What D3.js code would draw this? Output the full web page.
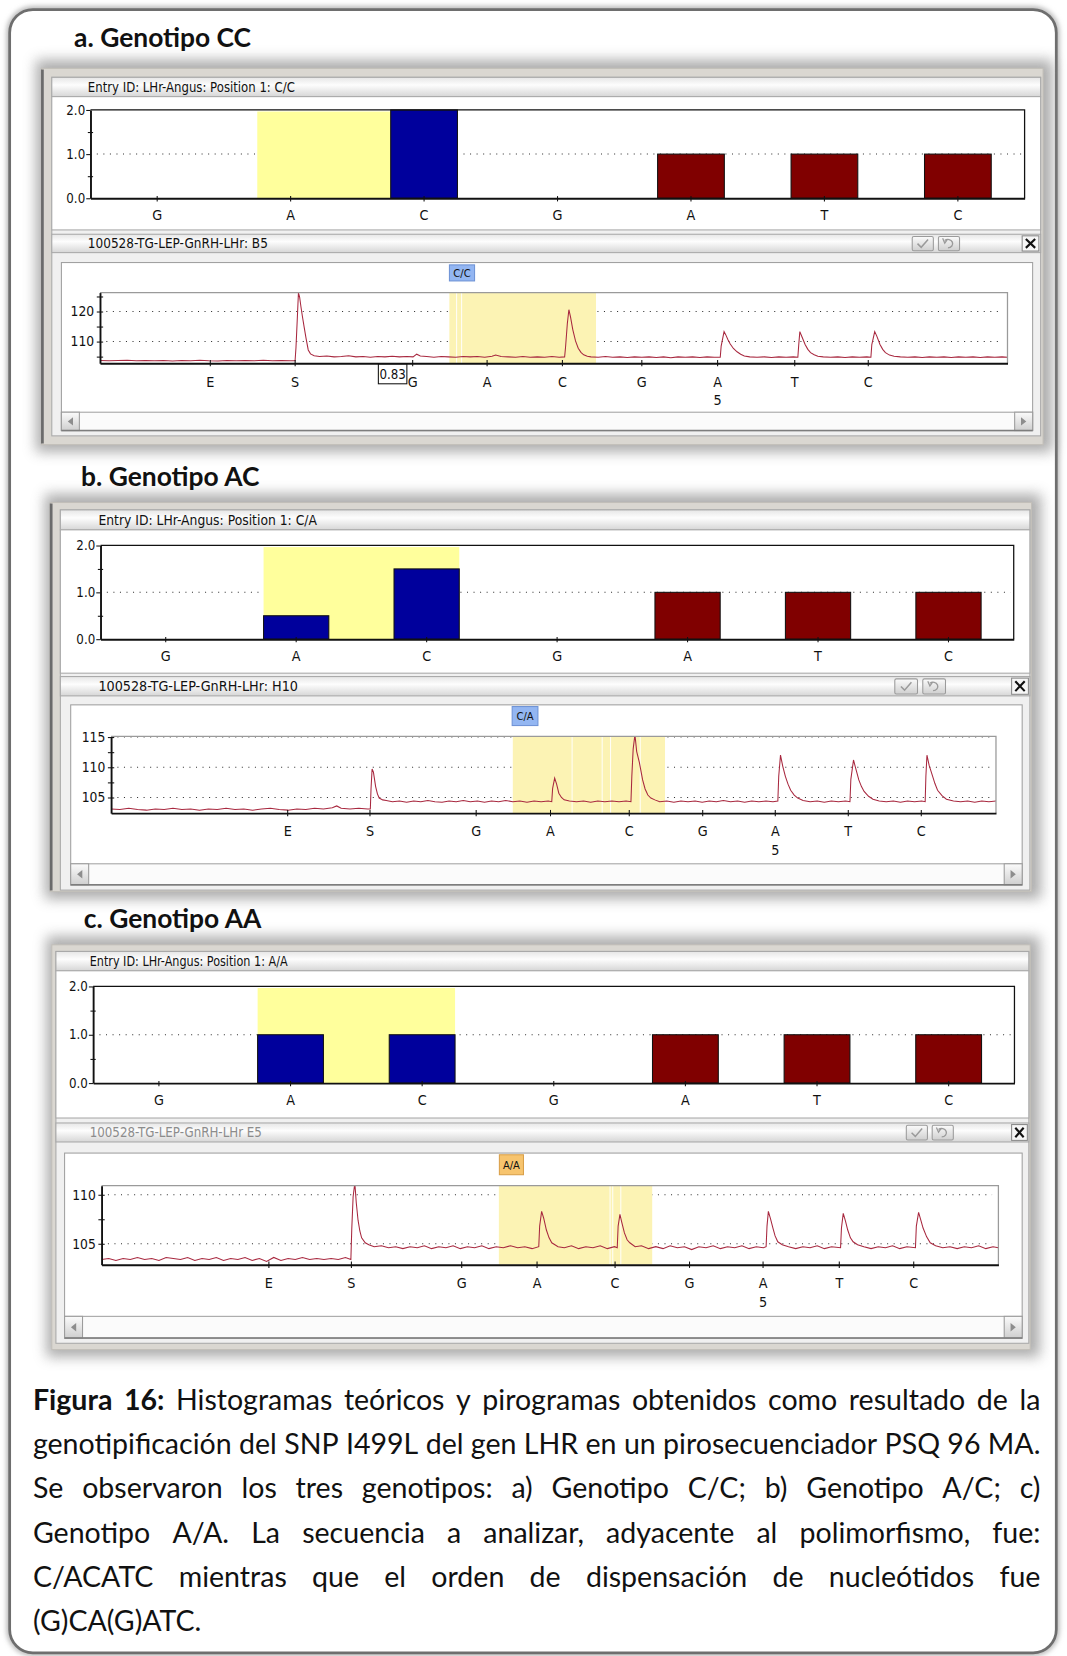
<!DOCTYPE html>
<html lang="es">
<head>
<meta charset="UTF-8">
<title>Figura 16 - Histogramas teóricos y pirogramas</title>
<script src="https://d3js.org/d3.v7.min.js"></script>
<style>
  body { margin: 0; background: #fff; }
  svg { display: block; }
  .ui { font-family: "Liberation Sans Narrow", "DejaVu Sans Condensed", "Liberation Sans", Arial, sans-serif; }
</style>
</head>
<body>
<div id="chart"></div>
<script>
// ---- data ----
const histCats = ["G", "A", "C", "G", "A", "T", "C"];
const histRole = ["blank", "snp", "snp", "blank", "ref", "ref", "ref"];
const histValsA = [0, 0, 2.0, 0, 1.0, 1.0, 1.0];
const histValsB = [0, 0.5, 1.5, 0, 1.0, 1.0, 1.0];
const histValsC = [0, 1.0, 1.0, 0, 1.0, 1.0, 1.0];
const histMajor = [0, 1, 2];
const histMinor = [0.5, 1.5];

const dispLabels = ["E", "S", "G", "A", "C", "G", "A", "T", "C"];
const dispSubLabels = ["", "", "", "", "", "", "5", "", ""];
const dispTimesA = [12.1, 21.45, 34.4, 42.6, 50.9, 59.65, 68.0, 76.5, 84.6];
const dispTimesB = [19.9, 29.2, 41.2, 49.6, 58.5, 66.8, 75.0, 83.25, 91.5];
const dispTimesC = [18.6, 27.8, 40.1, 48.5, 57.2, 65.5, 73.7, 82.2, 90.5];

const snpWinA = [38.5, 54.66], snpLinesA = [39.3, 39.85];
const snpWinB = [45.4, 62.6], snpLinesB = [52.1, 55.5, 56.45, 59.8];
const snpWinC = [44.3, 61.4], snpLinesC = [56.7, 57.0, 57.9];

const pyroTicksA = [105, 110, 115, 120, 125], pyroLabelsA = [110, 120];
const pyroTicksB = [105, 107.5, 110, 112.5, 115], pyroLabelsB = [105, 110, 115];
const pyroTicksC = [105, 107.5, 110], pyroLabelsC = [105, 110];

const pyroTraceA = [
[0,103.7],[1,103.6],[2,103.7],[3,103.8],[4,103.6],[5,103.7],[6,103.6],[7,103.7],[8,103.5],[9,103.7],[10,103.6],[11,103.8],[12,103.6],[13,103.5],[14,103.7],[15,103.6],[16,103.7],[17,103.6],[18,103.8],[19,103.6],[20,103.7],[21,103.6],[21.5,103.6],
[21.6,108],[21.75,118],[21.87,126.2],[22.0,124.8],[22.15,121.5],[22.3,118.5],[22.5,114.8],[22.7,111.2],[22.95,107.2],[23.2,105.9],[23.6,105.3],[24.2,105.0],[25,105.2],[25.8,104.9],[26.6,105.0],[27.4,105.3],[28.2,104.9],[29,105.0],[29.8,104.8],[30.6,105.0],[31.4,104.9],[32.2,105.1],[33,104.9],[33.8,105.0],[34.5,104.9],[34.9,105.8],[35.3,105.2],[36,105.0],[36.8,104.8],[37.6,105.0],[38.4,104.9],[39.2,104.8],[40,105.0],[40.8,104.9],[41.6,105.0],[42.4,104.8],[43.2,105.1],[43.6,105.5],[44.2,105.0],[45,104.9],[45.8,104.8],[46.6,105.0],[47.4,104.8],[48.2,104.9],[49,104.8],[49.8,105.0],[50.6,104.8],[51.2,104.9],
[51.3,108],[51.5,116],[51.67,120.6],[51.85,118.2],[52.1,114.0],[52.4,110.2],[52.7,107.8],[53.0,106.4],[53.3,105.6],[53.7,105.1],[54.1,104.9],[54.9,104.8],[55.7,105.0],[56.5,104.8],[57.3,104.9],[58.1,104.7],[58.9,104.9],[59.7,104.8],[60.5,104.9],[61.3,104.7],[62.1,104.9],[62.9,104.6],[63.7,104.9],[64.5,104.8],[65.3,104.9],[66.1,104.7],[66.9,104.9],[67.7,104.8],[68.35,104.8],
[68.45,108.5],[68.77,113.3],[68.95,112.3],[69.2,110.6],[69.45,109.2],[69.8,107.7],[70.2,106.6],[70.6,105.8],[71.0,105.2],[71.6,104.9],[72.4,104.8],[73.2,104.9],[74,104.7],[74.8,104.9],[75.6,104.8],[76.4,104.9],[76.9,104.8],
[77.0,109],[77.12,113.3],[77.35,111.6],[77.7,109.0],[78.0,107.4],[78.3,106.3],[78.7,105.6],[79.1,105.1],[79.7,104.9],[80.5,104.8],[81.3,104.9],[82.1,104.7],[82.9,104.9],[83.7,104.8],[84.5,104.9],[84.95,104.8],
[85.05,109],[85.37,113.3],[85.6,111.8],[85.95,109.0],[86.25,107.4],[86.55,106.3],[87.0,105.5],[87.5,105.1],[88.2,104.9],[89,104.8],[89.8,104.9],[90.6,104.7],[91.4,104.9],[92.2,104.8],[93,104.9],[93.8,104.7],[94.6,104.9],[95.4,104.8],[96.2,104.9],[97,104.7],[97.8,104.9],[98.6,104.8],[99.4,104.9],[100,104.8]
];

const pyroTraceB = [
[0,103.1],[1,103.0],[2,103.2],[3,103.0],[4,102.9],[5,103.1],[6,103.0],[7,103.2],[8,103.0],[9,103.1],[10,102.9],[11,103.1],[12,103.0],[13,103.2],[14,103.0],[15,103.1],[16,102.9],[17,103.1],[18,103.2],[19,103.0],[20,102.9],[21,103.1],[22,103.0],[23,103.2],[24,103.1],[25,103.3],[25.5,103.6],[26,103.2],[27,103.1],[28,103.2],[29,103.1],[29.3,103.1],
[29.38,106.5],[29.5,109.7],[29.65,109.2],[29.9,106.8],[30.1,105.6],[30.3,104.9],[30.7,104.6],[31.1,104.5],[31.8,104.3],[32.6,104.4],[33.4,104.2],[34.2,104.4],[35,104.3],[35.8,104.5],[36.6,104.3],[37.4,104.2],[38.2,104.4],[39,104.3],[39.8,104.5],[40.6,104.3],[41.4,104.4],[42.2,104.2],[43,104.4],[43.8,104.3],[44.6,104.5],[45.4,104.3],[46.2,104.4],[47,104.2],[47.8,104.4],[48.6,104.3],[49.4,104.4],[49.8,104.3],
[49.9,106.5],[50.13,108.2],[50.35,107.2],[50.6,105.7],[50.9,105.0],[51.2,104.6],[51.8,104.4],[52.6,104.3],[53.4,104.4],[54.2,104.2],[55,104.4],[55.8,104.3],[56.6,104.4],[57.4,104.3],[58.2,104.4],[58.75,104.3],
[58.85,108.5],[59.0,113],[59.2,115.4],[59.4,112.6],[59.7,110.8],[60.07,107.9],[60.35,106.4],[60.66,105.4],[61.0,104.9],[61.45,104.6],[62,104.3],[62.8,104.4],[63.6,104.2],[64.4,104.4],[65.2,104.3],[66,104.4],[66.8,104.2],[67.6,104.4],[68.4,104.3],[69.2,104.5],[70,104.3],[70.8,104.4],[71.6,104.2],[72.4,104.4],[73.2,104.3],[74,104.4],[74.8,104.3],[75.35,104.4],
[75.45,108.5],[75.65,112.0],[75.9,110.2],[76.2,108.5],[76.5,107.2],[76.8,106.2],[77.2,105.4],[77.6,104.9],[78.2,104.5],[79,104.3],[79.8,104.4],[80.6,104.2],[81.4,104.4],[82.2,104.3],[83,104.4],[83.5,104.3],
[83.6,108],[83.9,111.2],[84.15,109.8],[84.5,107.9],[84.8,106.8],[85.1,106.0],[85.6,105.2],[86.1,104.7],[86.8,104.4],[87.6,104.3],[88.4,104.4],[89.2,104.2],[90,104.4],[90.8,104.3],[91.6,104.4],[92.0,104.3],
[92.08,108.5],[92.2,112.0],[92.45,110.3],[92.8,108.7],[93.1,107.3],[93.4,106.2],[93.9,105.3],[94.4,104.7],[95.2,104.4],[96,104.3],[96.8,104.4],[97.6,104.2],[98.4,104.4],[99.2,104.3],[100,104.4]
];

const pyroTraceC = [
[0,103.4],[0.8,103.5],[1.6,103.3],[2.4,103.5],[3.2,103.4],[4,103.6],[4.8,103.4],[5.6,103.5],[6.4,103.3],[7.2,103.6],[8,103.5],[8.8,103.4],[9.6,103.6],[10.4,103.3],[11.2,103.5],[12,103.4],[12.8,103.6],[13.6,103.3],[14.4,103.5],[15.2,103.4],[16,103.6],[16.8,103.3],[17.6,103.5],[18.4,103.2],[19.2,103.6],[20,103.3],[20.8,103.5],[21.6,103.4],[22.4,103.6],[23.2,103.4],[24,103.5],[24.8,103.4],[25.6,103.5],[26.4,103.4],[27.2,103.6],[27.8,103.4],
[27.9,106.5],[28.05,109.8],[28.24,111.2],[28.4,109.2],[28.6,107.4],[28.8,106.3],[29.0,105.6],[29.4,105.1],[29.8,104.9],[30.4,104.7],[31.2,104.8],[32,104.6],[32.8,104.7],[33.6,104.5],[34.4,104.7],[35.2,104.6],[36,104.8],[36.8,104.5],[37.6,104.7],[38.4,104.6],[39.2,104.8],[40,104.5],[40.8,104.7],[41.6,104.6],[42.4,104.8],[43.2,104.5],[44,104.7],[44.8,104.6],[45.6,104.8],[46.4,104.6],[47.2,104.7],[48,104.5],[48.75,104.7],
[48.85,106.8],[49.07,108.3],[49.3,107.6],[49.6,106.4],[49.9,105.6],[50.2,105.1],[50.9,104.7],[51.6,104.6],[52.4,104.8],[53.2,104.5],[54,104.7],[54.8,104.6],[55.6,104.8],[56.4,104.5],[57.2,104.7],[57.5,104.6],
[57.6,106.8],[57.8,108.0],[58.0,107.2],[58.3,106.1],[58.6,105.4],[58.9,105.1],[59.5,104.7],[60.2,104.8],[61,104.5],[61.8,104.7],[62.6,104.5],[63.4,104.8],[64.2,104.6],[65,104.7],[65.8,104.4],[66.6,104.7],[67.4,104.6],[68.2,104.8],[69,104.5],[69.8,104.7],[70.6,104.6],[71.4,104.8],[72.2,104.5],[73,104.7],[73.8,104.6],[74.1,104.7],
[74.2,106.8],[74.35,108.3],[74.6,107.5],[74.86,106.6],[75.1,105.8],[75.4,105.2],[75.9,104.9],[76.6,104.7],[77.4,104.5],[78.2,104.7],[79,104.6],[79.8,104.8],[80.6,104.5],[81.4,104.7],[82.4,104.6],
[82.5,106.6],[82.7,108.1],[82.95,107.3],[83.2,106.4],[83.5,105.6],[83.8,105.2],[84.3,104.9],[85,104.7],[85.8,104.5],[86.6,104.7],[87.4,104.6],[88.2,104.8],[89,104.5],[89.8,104.7],[90.75,104.6],
[90.85,106.8],[91.1,108.2],[91.35,107.4],[91.6,106.6],[92.0,105.7],[92.4,105.1],[93,104.8],[93.8,104.6],[94.6,104.7],[95.4,104.5],[96.2,104.7],[97,104.6],[97.8,104.8],[98.6,104.5],[99.4,104.7],[100,104.6]
];

const captionLines = [
  "Figura 16: Histogramas teóricos y pirogramas obtenidos como resultado de la",
  "genotipificación del SNP I499L del gen LHR en un pirosecuenciador PSQ 96 MA.",
  "Se observaron los tres genotipos: a) Genotipo C/C; b) Genotipo A/C; c)",
  "Genotipo A/A. La secuencia a analizar, adyacente al polimorfismo, fue:",
  "C/ACATC mientras que el orden de dispensación de nucleótidos fue",
  "(G)CA(G)ATC."
];

// ---- layout (in 1010x1568 drawing units) ----
const panels = [
  { title: "a. Genotipo CC", tx: 70, ty: 44.2,
    win: {x: 39, y: 64.7, r: 987.5, b: 421}, darkLeft: true, xl: 48.9, xr: 985.2,
    hdr1: [73.2, 91.5], hdr1Text: "Entry ID: LHr-Angus: Position 1: C/C", hdr1X: 83, hdr1W: 196,
    histB: 217.7, hist: {x0: 85.5, x1: 970, y0: 104.1, y1: 187.7}, vals: histValsA,
    hdr2: [221.8, 239.2], hdr2Text: "100528-TG-LEP-GnRH-LHr: B5", hdr2W: 170.5, hdr2Color: "#111",
    btn: [863.6, 888.4], btnW: 20, close: 967.7, closeW: 15.8,
    box: {x: 58, r: 977.6, y: 248.6, b: 407.7}, scroll: 390.3,
    pyro: {x0: 94.5, x1: 953.8, y0: 277, y1: 343.9}, pDom: [102.8, 126.3],
    times: dispTimesA, trace: pyroTraceA, ticks: pyroTicksA, labels: pyroLabelsA,
    win2: snpWinA, lines: snpLinesA,
    tag: "C/C", tagFill: "#93b6f2", tagStroke: "#6f93d6", tagBox: [425.4, 449.2, 250.8, 266],
    note: "0.83" },
  { title: "b. Genotipo AC", tx: 76.6, ty: 460,
    win: {x: 47.3, y: 475.8, r: 976.6, b: 844.2}, darkLeft: true, xl: 57, xr: 975,
    hdr1: [482.8, 501.7], hdr1Text: "Entry ID: LHr-Angus: Position 1: C/A", hdr1X: 93, hdr1W: 207,
    histB: 637.4, hist: {x0: 95, x1: 959.7, y0: 516.5, y1: 605.2}, vals: histValsB,
    hdr2: [640.6, 658.9], hdr2Text: "100528-TG-LEP-GnRH-LHr: H10", hdr2W: 189, hdr2Color: "#111",
    btn: [847.1, 873.6], btnW: 21.5, close: 957.7, closeW: 15.9,
    box: {x: 66.8, r: 967.7, y: 667.4, b: 837.8}, scroll: 817.9,
    pyro: {x0: 105, x1: 942.9, y0: 697.3, y1: 769.9}, pDom: [102.41, 115.1],
    times: dispTimesB, trace: pyroTraceB, ticks: pyroTicksB, labels: pyroLabelsB,
    win2: snpWinB, lines: snpLinesB,
    tag: "C/A", tagFill: "#93b6f2", tagStroke: "#6f93d6", tagBox: [484.8, 509.2, 669, 687],
    note: null },
  { title: "c. Genotipo AA", tx: 79.2, ty: 878.8,
    win: {x: 48.9, y: 894.6, r: 975.3, b: 1277.9}, darkLeft: false, xl: 52.8, xr: 974,
    hdr1: [900.9, 919.2], hdr1Text: "Entry ID: LHr-Angus: Position 1: A/A", hdr1X: 84.8, hdr1W: 187.4,
    histB: 1058.6, hist: {x0: 88, x1: 960.4, y0: 934, y1: 1025.5}, vals: histValsC,
    hdr2: [1063.3, 1081.3], hdr2Text: "100528-TG-LEP-GnRH-LHr E5", hdr2W: 163, hdr2Color: "#8c8c8c",
    btn: [858, 882.5], btnW: 20, close: 957.7, closeW: 14.9,
    box: {x: 61, r: 967.7, y: 1091.8, b: 1266.9}, scroll: 1246.4,
    pyro: {x0: 96, x1: 945.2, y0: 1122.7, y1: 1197.5}, pDom: [102.86, 110.92],
    times: dispTimesC, trace: pyroTraceC, ticks: pyroTicksC, labels: pyroLabelsC,
    win2: snpWinC, lines: snpLinesC,
    tag: "A/A", tagFill: "#f7c46e", tagStroke: "#d9a04a", tagBox: [472.7, 495.5, 1093.4, 1112.3],
    note: null }
];

const roleColor = { snp: "#00009c", ref: "#800000" };

const W = 1010, H = 1568;
const svg = d3.select("#chart").append("svg")
  .attr("width", 1067).attr("height", 1656)
  .attr("viewBox", `0 0 ${W} ${H}`);

const defs = svg.append("defs");
defs.append("filter").attr("id", "blur6").attr("x", "-10%").attr("y", "-10%")
  .attr("width", "120%").attr("height", "120%")
  .append("feGaussianBlur").attr("stdDeviation", 6);
defs.append("filter").attr("id", "blur3").attr("x", "-5%").attr("y", "-5%")
  .attr("width", "110%").attr("height", "110%")
  .append("feGaussianBlur").attr("stdDeviation", 2.5);
const hg = defs.append("linearGradient").attr("id", "hdrGrad").attr("x1", 0).attr("y1", 0).attr("x2", 0).attr("y2", 1);
hg.append("stop").attr("offset", "0%").attr("stop-color", "#e6e6e6");
hg.append("stop").attr("offset", "40%").attr("stop-color", "#fdfdfd");
hg.append("stop").attr("offset", "100%").attr("stop-color", "#d6d6d6");
const bg = defs.append("linearGradient").attr("id", "btnGrad").attr("x1", 0).attr("y1", 0).attr("x2", 0).attr("y2", 1);
bg.append("stop").attr("offset", "0%").attr("stop-color", "#fbfbfb");
bg.append("stop").attr("offset", "100%").attr("stop-color", "#cfcfcf");

// outer figure frame
svg.append("rect").attr("x", 9).attr("y", 9).attr("width", 991).attr("height", 1556).attr("rx", 22)
  .attr("fill", "none").attr("stroke", "#b5b5b5").attr("stroke-width", 6).attr("filter", "url(#blur3)");
svg.append("rect").attr("x", 9).attr("y", 9).attr("width", 991).attr("height", 1556).attr("rx", 22)
  .attr("fill", "#fff").attr("stroke", "#6e6e6e").attr("stroke-width", 2.6);

function header(g, x, y, w, h, label, tx, tw, color) {
  g.append("rect").attr("x", x).attr("y", y).attr("width", w).attr("height", h)
    .attr("fill", "url(#hdrGrad)").attr("stroke", "#a9a9a9");
  g.append("text").attr("class", "ui").attr("x", tx).attr("y", y + h / 2 + 4.6)
    .attr("font-size", 12.5).attr("fill", color)
    .attr("textLength", tw).attr("lengthAdjust", "spacingAndGlyphs").text(label);
}

function scrollbar(g, x, r, y, b) {
  g.append("rect").attr("x", x).attr("y", y).attr("width", r - x).attr("height", b - y)
    .attr("fill", "#fbfbfb").attr("stroke", "#a3a3a3");
  [[x, -1], [r - 17, 1]].forEach(([bx, dir]) => {
    g.append("rect").attr("x", bx).attr("y", y).attr("width", 17).attr("height", b - y)
      .attr("fill", "url(#btnGrad)").attr("stroke", "#9c9c9c");
    const cx = bx + 8.5, cy = (y + b) / 2;
    g.append("path").attr("d", `M${cx - 2.5 * dir},${cy - 4}L${cx + 2.5 * dir},${cy}L${cx - 2.5 * dir},${cy + 4}Z`)
      .attr("fill", "#8d8d8d");
  });
  g.append("line").attr("x1", x).attr("x2", r).attr("y1", b).attr("y2", b)
    .attr("stroke", "#7d7d7d").attr("stroke-width", 1.4);
}

function drawHist(g, P) {
  const h = P.hist;
  const x = d3.scaleBand().domain(d3.range(histCats.length)).range([h.x0, h.x1]);
  const y = d3.scaleLinear().domain([0, 2]).range([h.y1, h.y0]);
  const bw = x.bandwidth() / 2;

  g.append("line").attr("x1", h.x0 + 6).attr("x2", h.x1 - 3).attr("y1", y(1)).attr("y2", y(1))
    .attr("stroke", "#333").attr("stroke-dasharray", "1 5.2");

  // highlighted SNP region behind the variable bars
  const yl = x(1) + bw / 2, yr = x(2) + bw * 1.5;
  g.append("rect").attr("x", yl).attr("y", y(2) + 1.5).attr("width", yr - yl).attr("height", y(0) - y(2) - 1.5)
    .attr("fill", "#ffff9c");

  g.selectAll("rect.bar").data(P.vals.map((v, i) => ({v, i})).filter(d => d.v > 0))
    .join("rect").attr("class", "bar")
    .attr("x", d => x(d.i) + bw / 2).attr("width", bw)
    .attr("y", d => y(d.v)).attr("height", d => y(0) - y(d.v))
    .attr("fill", d => roleColor[histRole[d.i]]).attr("stroke", "#111").attr("stroke-width", 1);

  g.append("path").attr("d", `M${h.x0},${h.y0}H${h.x1}V${h.y1}`).attr("fill", "none")
    .attr("stroke", "#111").attr("stroke-width", 1.2);

  const xa = g.append("g").attr("transform", `translate(0,${h.y1})`)
    .call(d3.axisBottom(x).tickFormat(i => histCats[i]).tickSizeInner(3).tickSizeOuter(0).tickPadding(8.5));
  xa.selectAll(".tick line").attr("y1", -2).attr("stroke", "#111");
  xa.select(".domain").attr("stroke", "#111").attr("stroke-width", 1.8);
  xa.selectAll("text").attr("class", "ui").attr("font-size", 13.5).attr("fill", "#111");

  const ya = g.append("g").attr("transform", `translate(${h.x0},0)`)
    .call(d3.axisLeft(y).tickValues(histMajor).tickFormat(d3.format(".1f")).tickSizeInner(4).tickSizeOuter(0).tickPadding(1));
  ya.select(".domain").attr("stroke", "#111").attr("stroke-width", 1.8);
  ya.selectAll(".tick line").attr("stroke", "#111");
  ya.selectAll("text").attr("class", "ui").attr("font-size", 12.5).attr("fill", "#111");
  const ym = g.append("g").attr("transform", `translate(${h.x0},0)`)
    .call(d3.axisLeft(y).tickValues(histMinor).tickFormat("").tickSizeInner(2.5).tickSizeOuter(0));
  ym.select(".domain").remove();
  ym.selectAll(".tick line").attr("x1", 2.5).attr("stroke", "#111");
}

function drawPyro(g, P, idx) {
  const p = P.pyro;
  const x = d3.scaleLinear().domain([0, 100]).range([p.x0, p.x1]);
  const y = d3.scaleLinear().domain(P.pDom).range([p.y1, p.y0]);

  P.labels.forEach(v => {
    g.append("line").attr("x1", p.x0 + 6).attr("x2", p.x1 - 6).attr("y1", y(v)).attr("y2", y(v))
      .attr("stroke", "#333").attr("stroke-dasharray", "1 5.2");
  });

  g.append("rect").attr("x", x(P.win2[0])).attr("y", p.y0).attr("width", x(P.win2[1]) - x(P.win2[0]))
    .attr("height", p.y1 - p.y0).attr("fill", "#fcf3b4");
  P.lines.forEach(t => g.append("line").attr("x1", x(t)).attr("x2", x(t)).attr("y1", p.y0).attr("y2", p.y1)
    .attr("stroke", "#fff").attr("stroke-width", 0.9));

  defs.append("clipPath").attr("id", "pclip" + idx).append("rect")
    .attr("x", p.x0).attr("y", p.y0).attr("width", p.x1 - p.x0).attr("height", p.y1 - p.y0);
  g.append("path").datum(P.trace)
    .attr("d", d3.line().x(d => x(d[0])).y(d => y(d[1])))
    .attr("fill", "none").attr("stroke", "#a8283f").attr("stroke-width", 1)
    .attr("clip-path", `url(#pclip${idx})`);

  g.append("path").attr("d", `M${p.x0},${p.y0}H${p.x1}V${p.y1}`).attr("fill", "none")
    .attr("stroke", "#9a9a9a").attr("stroke-width", 1.2);

  const xa = g.append("g").attr("transform", `translate(0,${p.y1})`)
    .call(d3.axisBottom(x).tickValues(P.times).tickFormat((d, i) => dispLabels[i])
      .tickSizeInner(3).tickSizeOuter(0).tickPadding(9.5));
  xa.selectAll(".tick line").attr("y1", -3).attr("stroke", "#111");
  xa.select(".domain").attr("stroke", "#111").attr("stroke-width", 1.8);
  xa.selectAll("text").attr("class", "ui").attr("font-size", 13.5).attr("fill", "#111");
  xa.selectAll(".tick").filter((d, i) => dispSubLabels[i] !== "")
    .append("text").attr("class", "ui").attr("y", 40).attr("text-anchor", "middle")
    .attr("font-size", 13.5).attr("fill", "#111")
    .text(d => dispSubLabels[P.times.indexOf(d)]);

  const ya = g.append("g").attr("transform", `translate(${p.x0},0)`)
    .call(d3.axisLeft(y).tickValues(P.ticks).tickFormat(d => P.labels.includes(d) ? d : "")
      .tickSizeInner(3).tickSizeOuter(0).tickPadding(2.5));
  ya.select(".domain").attr("stroke", "#111").attr("stroke-width", 1.8);
  ya.selectAll(".tick line").attr("x1", 3).attr("stroke", "#111");
  ya.selectAll("text").attr("class", "ui").attr("font-size", 13).attr("fill", "#111");

  // genotype tag above the SNP window
  const tb = P.tagBox;
  g.append("rect").attr("x", tb[0]).attr("y", tb[2]).attr("width", tb[1] - tb[0]).attr("height", tb[3] - tb[2])
    .attr("fill", P.tagFill).attr("stroke", P.tagStroke);
  g.append("text").attr("class", "ui").attr("x", (tb[0] + tb[1]) / 2).attr("y", (tb[2] + tb[3]) / 2 + 3.8)
    .attr("text-anchor", "middle").attr("font-size", 10.5).attr("fill", "#111").text(P.tag);

  if (P.note) {
    const nx = x(P.times[2]) - 5;
    g.append("rect").attr("x", nx - 27).attr("y", p.y1 + 1).attr("width", 27).attr("height", 18.5)
      .attr("fill", "#fff").attr("stroke", "#111");
    g.append("text").attr("class", "ui").attr("x", nx - 13.5).attr("y", p.y1 + 14.5)
      .attr("text-anchor", "middle").attr("font-size", 12.5).attr("fill", "#111").text(P.note);
  }
}

panels.forEach((P, idx) => {
  const g = svg.append("g");
  const w = P.win;

  g.append("rect").attr("x", w.x - 5).attr("y", w.y - 8).attr("width", w.r - w.x + 14).attr("height", w.b - w.y + 15)
    .attr("fill", "#8a8a8a").attr("opacity", 0.7).attr("filter", "url(#blur6)");

  g.append("text").attr("x", P.tx).attr("y", P.ty)
    .attr("font-family", "Lato, 'Open Sans', sans-serif").attr("font-weight", 700)
    .attr("font-size", 25).attr("fill", "#111").text(P.title);

  g.append("rect").attr("x", w.x).attr("y", w.y).attr("width", w.r - w.x).attr("height", w.b - w.y)
    .attr("fill", "#dad7d1").attr("stroke", "#c2bfb9");
  if (P.darkLeft) {
    g.append("line").attr("x1", w.x + 1).attr("x2", w.x + 1).attr("y1", w.y + 1).attr("y2", w.b - 1)
      .attr("stroke", "#6b6b6b").attr("stroke-width", 2.6);
  }

  g.append("rect").attr("x", P.xl).attr("y", P.hdr1[0]).attr("width", P.xr - P.xl)
    .attr("height", P.box.b + 5 - P.hdr1[0]).attr("fill", "#f0f0f0").attr("stroke", "#a9a9a9");

  header(g, P.xl, P.hdr1[0], P.xr - P.xl, P.hdr1[1] - P.hdr1[0], P.hdr1Text, P.hdr1X, P.hdr1W, "#111");
  g.append("rect").attr("x", P.xl).attr("y", P.hdr1[1]).attr("width", P.xr - P.xl).attr("height", P.histB - P.hdr1[1])
    .attr("fill", "#fff").attr("stroke", "#a9a9a9");
  drawHist(g, P);

  header(g, P.xl, P.hdr2[0], P.xr - P.xl, P.hdr2[1] - P.hdr2[0], P.hdr2Text, P.hdr1X, P.hdr2W, P.hdr2Color);
  const by = P.hdr2[0] + 2.2, bh = P.hdr2[1] - P.hdr2[0] - 4;
  P.btn.forEach((bx, k) => {
    g.append("rect").attr("x", bx).attr("y", by).attr("width", P.btnW).attr("height", bh).attr("rx", 1.5)
      .attr("fill", "url(#btnGrad)").attr("stroke", "#9b9b9b");
    const cx = bx + P.btnW / 2, cy = by + bh / 2;
    if (k === 0) {
      g.append("path").attr("d", `M${cx - 5},${cy}L${cx - 1.5},${cy + 3.5}L${cx + 5},${cy - 4}`)
        .attr("fill", "none").attr("stroke", "#9a9a9a").attr("stroke-width", 1.4);
    } else {
      g.append("path").attr("d", `M${cx - 4},${cy - 3}A4.5,4 0 1 1 ${cx - 1},${cy + 4}`)
        .attr("fill", "none").attr("stroke", "#9a9a9a").attr("stroke-width", 1.3);
      g.append("path").attr("d", `M${cx - 6},${cy - 5}L${cx - 4},${cy - 0.5}L${cx - 1.5},${cy - 4}`)
        .attr("fill", "none").attr("stroke", "#9a9a9a").attr("stroke-width", 1.2);
    }
  });
  const cxl = P.close, cyt = P.hdr2[0] + 1.5, cs = P.closeW, ch = P.hdr2[1] - P.hdr2[0] - 3;
  g.append("rect").attr("x", cxl).attr("y", cyt).attr("width", cs).attr("height", ch)
    .attr("fill", "#f6f6f6").attr("stroke", "#8a8a8a");
  g.append("path").attr("d", `M${cxl + 3.5},${cyt + 3}L${cxl + cs - 3.5},${cyt + ch - 3}M${cxl + cs - 3.5},${cyt + 3}L${cxl + 3.5},${cyt + ch - 3}`)
    .attr("stroke", "#111").attr("stroke-width", 2);

  g.append("rect").attr("x", P.box.x).attr("y", P.box.y).attr("width", P.box.r - P.box.x).attr("height", P.box.b - P.box.y)
    .attr("fill", "#fff").attr("stroke", "#a0a0a0");
  drawPyro(g, P, idx);
  scrollbar(g, P.box.x, P.box.r, P.scroll, P.box.b);
});

// ---- caption, justified ----
const capX0 = 31, capX1 = 985, capY0 = 1334.7, capDY = 42;
const capFamily = "Lato, 'Open Sans', sans-serif";
const meas = svg.append("text").attr("font-family", capFamily).attr("visibility", "hidden");
function textW(t, size, bold) {
  meas.attr("font-size", size).attr("font-weight", bold ? 700 : 400).text(t);
  return meas.node().getComputedTextLength();
}
let capSize = 30;
[0, 1].forEach(i => {
  const nat = textW(captionLines[i], 24, false) + (i === 0 ? 8 : 0);
  capSize = Math.min(capSize, 24 * (capX1 - capX0) / nat * 0.997);
});
const cap = svg.append("g").attr("font-family", capFamily).attr("font-size", capSize).attr("fill", "#111");
captionLines.forEach((line, li) => {
  const words = line.split(" ").map((t, k) => ({t, bold: li === 0 && k < 2}));
  words.forEach(wd => { wd.w = textW(wd.t, capSize, wd.bold); });
  const sum = d3.sum(words, d => d.w);
  const last = li === captionLines.length - 1;
  const gap = last ? textW("a b", capSize, false) - textW("ab", capSize, false)
                   : (capX1 - capX0 - sum) / (words.length - 1);
  let cx = capX0;
  words.forEach(wd => {
    cap.append("text").attr("x", cx).attr("y", capY0 + li * capDY)
      .attr("font-weight", wd.bold ? 700 : 400).text(wd.t);
    cx += wd.w + gap;
  });
});
meas.remove();
</script>
</body>
</html>
